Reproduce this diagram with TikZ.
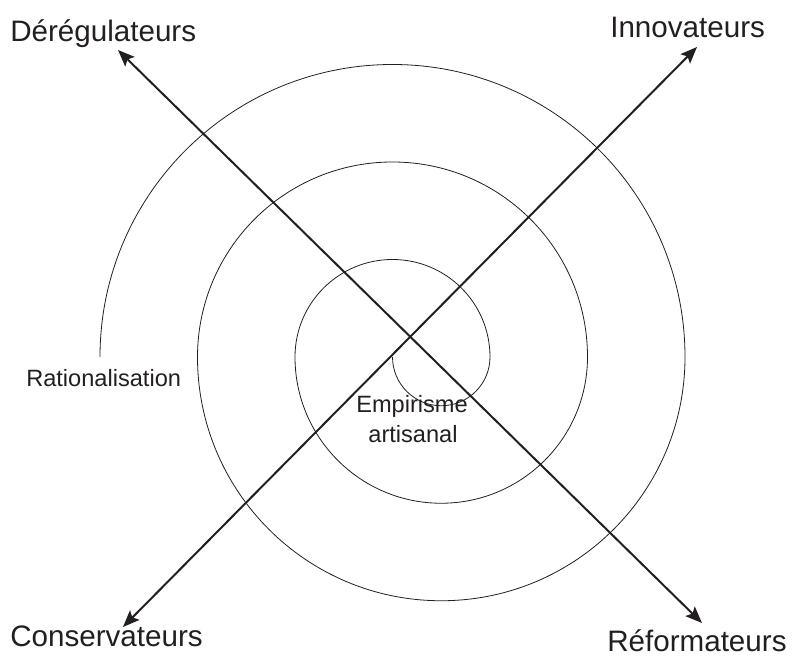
\documentclass[tikz,border=0pt]{standalone}
\usepackage{fontspec}
\setmainfont{Liberation Sans}
\usetikzlibrary{arrows.meta}
\definecolor{ink}{RGB}{35,31,32}
\tikzset{
  axis/.style={draw=ink, line width=1.5pt, {Stealth[length=12.5pt,width=10pt,inset=2.5pt]}-{Stealth[length=12.5pt,width=10pt,inset=2.5pt]}},
  spiral/.style={draw=ink, line width=0.6pt},
  biglabel/.style={text=ink, inner sep=0pt, font=\fontsize{22.2pt}{26pt}\selectfont},
  smalllabel/.style={text=ink, inner sep=0pt, font=\fontsize{17.7pt}{22pt}\selectfont},
}
\begin{document}
\begin{tikzpicture}[x=0.75pt,y=0.75pt]
\useasboundingbox (0,0) rectangle (793,660);
% spiral
\draw[spiral] (392.5,303)
  arc[start angle=180,end angle=360,radius=36.5625pt]
  arc[start angle=0,end angle=180,radius=73.125pt]
  arc[start angle=180,end angle=360,radius=109.6875pt]
  arc[start angle=0,end angle=180,radius=146.25pt]
  arc[start angle=180,end angle=360,radius=182.8125pt]
  arc[start angle=0,end angle=180,radius=219.375pt];
% axis end points
\coordinate (tl) at (118,610);
\coordinate (br) at (702,37);
\coordinate (tr) at (697,613);
\coordinate (bl) at (123,33);
\draw[axis] (tl) -- (br);
\draw[axis] (bl) -- (tr);
% labels
\node[biglabel, anchor=base west] (dereg) at (10,618) {Dérégulateurs};
\node[biglabel, anchor=base west] (innov) at (610,622) {Innovateurs};
\node[biglabel, anchor=base west] (conserv) at (10,13) {Conservateurs};
\node[biglabel, anchor=base west] (reform) at (607,8) {Réformateurs};
\node[smalllabel, anchor=base west] (ration) at (26,273) {Rationalisation};
\node[smalllabel, anchor=base] (empir) at (412,247) {Empirisme};
\node[smalllabel, anchor=base] (artis) at (413,217) {artisanal};
\end{tikzpicture}
\end{document}
